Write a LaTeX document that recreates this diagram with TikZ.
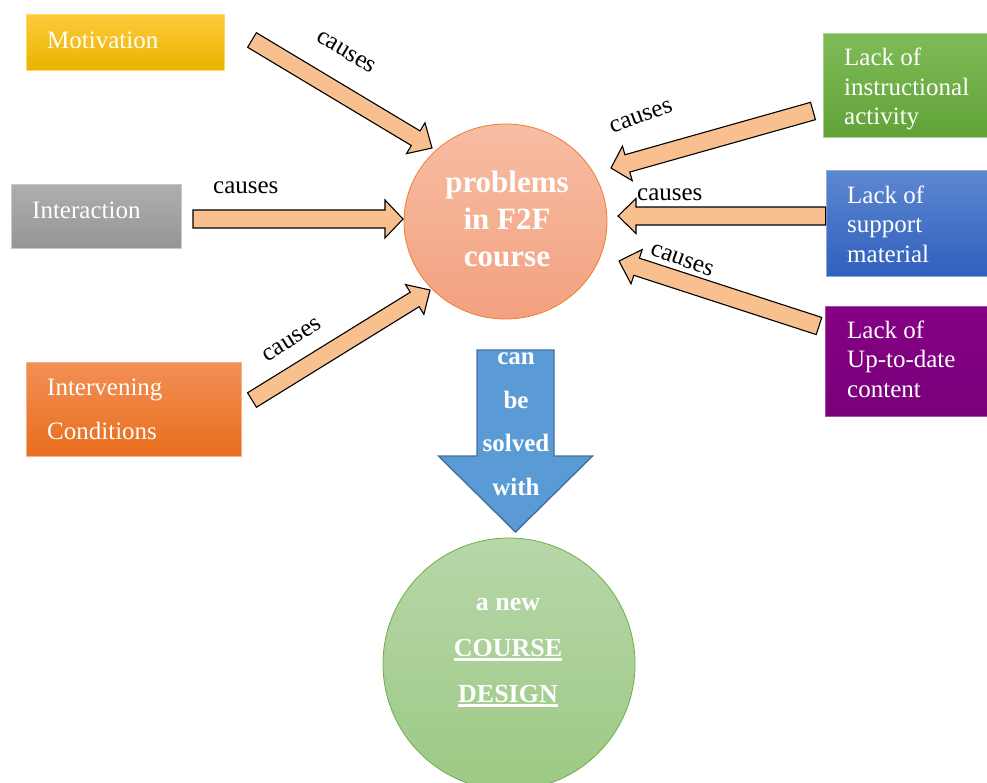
\documentclass[tikz,border=0pt]{standalone}
\usepackage{fontspec}
\setmainfont{Liberation Serif}
\usetikzlibrary{calc,shapes.geometric}
\definecolor{peach}{HTML}{F8C08F}
\definecolor{motA}{HTML}{FFCA3A}
\definecolor{motM}{HTML}{FFC000}
\definecolor{motB}{HTML}{E8B400}
\definecolor{motD}{HTML}{FFD966}
\definecolor{intA}{HTML}{AEAEAE}
\definecolor{intB}{HTML}{959595}
\definecolor{intD}{HTML}{C9C9C9}
\definecolor{ivA}{HTML}{F38F56}
\definecolor{ivB}{HTML}{E86E1C}
\definecolor{ivD}{HTML}{F4B183}
\definecolor{grA}{HTML}{7FBB58}
\definecolor{grB}{HTML}{61A338}
\definecolor{grD}{HTML}{A9D18E}
\definecolor{blA}{HTML}{5E87D1}
\definecolor{blB}{HTML}{2F60BD}
\definecolor{blD}{HTML}{8FAADC}
\definecolor{puA}{HTML}{840084}
\definecolor{puB}{HTML}{7A007A}
\definecolor{puD}{HTML}{A64DA6}
\definecolor{prA}{HTML}{F7BDA3}
\definecolor{prB}{HTML}{F3A180}
\definecolor{prD}{HTML}{ED7D31}
\definecolor{dsA}{HTML}{B7D7A9}
\definecolor{dsB}{HTML}{9CC984}
\definecolor{dsD}{HTML}{70AD47}
\definecolor{arF}{HTML}{5B9BD5}
\definecolor{arD}{HTML}{41719C}
\newcommand{\blockarr}[7]{%
  \coordinate (#1-h) at ($(#4)!#7pt!(#3)$);
  \draw[#2] ($(#3)!#5pt!90:(#4)$) -- ($(#1-h)!#5pt!90:(#4)$) -- ($(#1-h)!#6pt!90:(#4)$) -- (#4)
    -- ($(#1-h)!#6pt!-90:(#4)$) -- ($(#1-h)!#5pt!-90:(#4)$) -- ($(#3)!#5pt!-90:(#4)$) -- cycle;
}
\newcommand{\thickul}[1]{\leavevmode\setbox0\hbox{#1}\rlap{\rule[-4.6pt]{\wd0}{2.2pt}}\box0}
\begin{document}
\begin{tikzpicture}[x=1pt,y=-1pt,
  box/.style={rectangle, inner sep=0pt, line width=0.7pt},
  lbl/.style={text=white, font=\fontsize{25}{29.5}\selectfont, align=left, anchor=base west, inner sep=0pt},
  cause/.style={font=\fontsize{25}{30}\selectfont, inner sep=0pt},
  peacharrow/.style={draw=black, line width=1.1pt, fill=peach, line join=miter},
  bluearrow/.style={draw=arD, line width=1.4pt, fill=arF, line join=miter},
  boldwhite/.style={text=white, font=\bfseries\fontsize{25}{43.5}\selectfont, align=center, anchor=base, inner sep=0pt}
]
\clip (0,0) rectangle (987,782);

% boxes
\node[box, draw=motD, top color=motA, middle color=motM, bottom color=motB, minimum width=198pt, minimum height=56pt] (mot) at (125,42) {};
\node[box, draw=intD, top color=intA, bottom color=intB, minimum width=170pt, minimum height=64pt] (int) at (96,216) {};
\node[box, draw=ivD, top color=ivA, bottom color=ivB, minimum width=215pt, minimum height=94pt] (iv) at (133.5,409) {};
\node[box, draw=grD, top color=grA, bottom color=grB, minimum width=167pt, minimum height=104pt] (ins) at (906.5,85) {};
\node[box, draw=blD, top color=blA, bottom color=blB, minimum width=164pt, minimum height=106pt] (sup) at (908,223) {};
\node[box, draw=puD, top color=puA, bottom color=puB, minimum width=165pt, minimum height=110pt] (upd) at (907.5,361) {};

% multi-line labels are anchored at the baseline of their last line
\node[lbl] (mott) at (47,48) {Motivation};
\node[lbl] (intt) at (32,218) {Interaction};
\node[lbl, font=\fontsize{25}{44}\selectfont] (ivt) at (47,439) {Intervening\\Conditions};
\node[lbl] (inst) at (844,124.5) {Lack of\\instructional\\activity};
\node[lbl] (supt) at (847,262) {Lack of\\support\\material};
\node[lbl] (updt) at (847,397) {Lack of\\Up-to-date\\content};

% circles
\node[ellipse, inner sep=0pt, draw=prD, line width=0.8pt, top color=prA, bottom color=prB, minimum width=203pt, minimum height=195pt] (prob) at (505.5,221.5) {};
\node[boldwhite, font=\bfseries\fontsize{31}{37}\selectfont] (probt) at (507,266.7) {problems\\in F2F\\course};

\node[circle, inner sep=0pt, draw=dsD, line width=0.8pt, top color=dsA, bottom color=dsB, minimum size=252pt] (des) at (509,664) {};
\node[boldwhite, font=\bfseries\fontsize{26}{46}\selectfont] (dest) at (508,702) {a new\\\thickul{COURSE}\\\thickul{DESIGN}};

% block arrows
\coordinate (t1) at (252,40);  \coordinate (p1) at (432,148);
\coordinate (t2) at (193,219); \coordinate (p2) at (403,219);
\coordinate (t3) at (252,400); \coordinate (p3) at (430,290);
\coordinate (t4) at (813,111); \coordinate (p4) at (611,168);
\coordinate (t5) at (sup.west|-0,216); \coordinate (p5) at (618,216);
\coordinate (t6) at (819,326); \coordinate (p6) at (619,261);
\blockarr{a1}{peacharrow}{t1}{p1}{8.5}{18}{19}
\blockarr{a2}{peacharrow}{t2}{p2}{9}{19}{18}
\blockarr{a3}{peacharrow}{t3}{p3}{8.5}{17.5}{18}
\blockarr{a4}{peacharrow}{t4}{p4}{9}{18}{17}
\blockarr{a5}{peacharrow}{t5}{p5}{9}{17.5}{18}
\blockarr{a6}{peacharrow}{t6}{p6}{9}{18}{18.5}

\node[cause, rotate=-31] (c1) at (346,52) {causes};
\node[cause, anchor=base west] (c2) at (213,193) {causes};
\node[cause, rotate=32] (c3) at (292,340) {causes};
\node[cause, rotate=20] (c4) at (641,117) {causes};
\node[cause, anchor=base west] (c5) at (637,200) {causes};
\node[cause, rotate=-20] (c6) at (682,260) {causes};

% solve arrow
\coordinate (st) at (515.5,350);
\coordinate (sp) at (515.5,532);
\blockarr{sv}{bluearrow}{st}{sp}{38.5}{77}{76}
\node[boldwhite] (svt) at (516,495) {can\\be\\solved\\with};
\end{tikzpicture}
\end{document}
